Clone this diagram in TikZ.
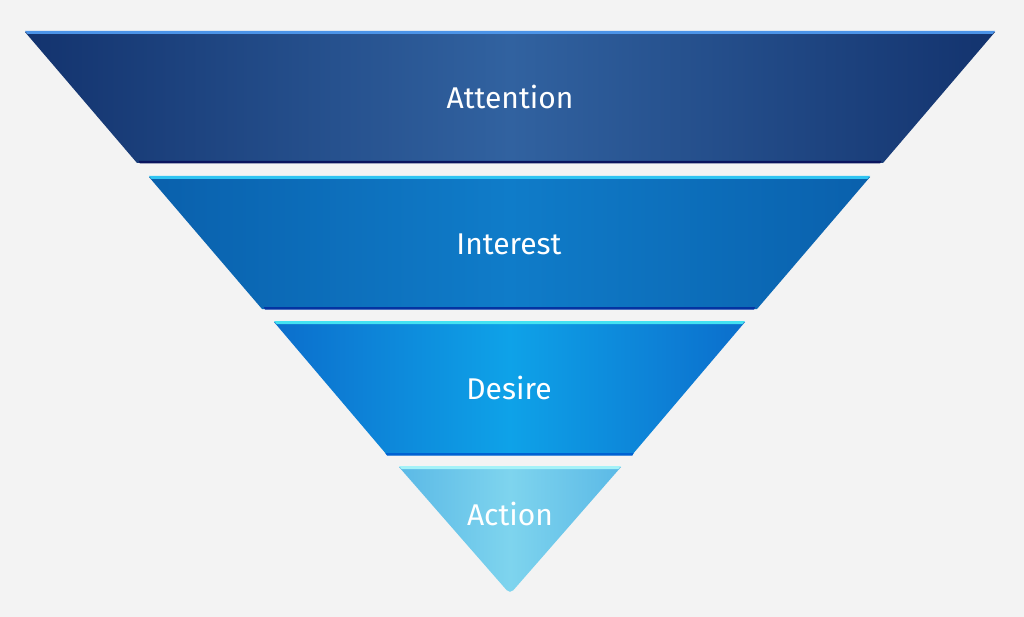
\documentclass[tikz,border=0pt]{standalone}
\usepackage{fontspec}
\setmainfont{Fira Sans}
\definecolor{bg}{HTML}{F3F3F3}
\definecolor{aEdge}{HTML}{13336E}
\definecolor{aMid}{HTML}{3162A0}
\definecolor{aTop}{HTML}{4C94E8}
\definecolor{aBot}{HTML}{0A145E}
\definecolor{iEdge}{HTML}{0A60AC}
\definecolor{iMid}{HTML}{0F7CC9}
\definecolor{iTop}{HTML}{30C4F2}
\definecolor{iBot}{HTML}{0433A2}
\definecolor{dEdge}{HTML}{0C6ECC}
\definecolor{dMid}{HTML}{0EA2E8}
\definecolor{dTop}{HTML}{44E2F2}
\definecolor{dBot}{HTML}{0062D2}
\definecolor{cEdge}{HTML}{5BB9E6}
\definecolor{cMid}{HTML}{7ED4EE}
\definecolor{cTop}{HTML}{A4F2F8}
\begin{document}
\begin{tikzpicture}[x=1pt,y=-1pt,
  label/.style={text=white,font=\fontsize{30}{36}\selectfont,inner sep=0pt,anchor=base}]
\useasboundingbox (0,0) rectangle (1024,617);
\fill[bg] (0,0) rectangle (1024,617);
% Attention
\shade[left color=aEdge,right color=aEdge,middle color=aMid] (25,32) -- (995,32) -- (883,163) -- (137,163) -- cycle;
\fill[aTop] (25,31) -- (995,31) -- (992.4,34) -- (27.6,34) -- cycle;
\fill[aBot] (138.7,161) -- (881.3,161) -- (880,163.5) -- (140,163.5) -- cycle;
% Interest
\shade[left color=iEdge,right color=iEdge,middle color=iMid] (149,177) -- (870,177) -- (757,309) -- (262,309) -- cycle;
\fill[iTop] (149,176) -- (870,176) -- (867.4,179) -- (151.6,179) -- cycle;
\fill[iBot] (263.7,307) -- (755.3,307) -- (754,309.5) -- (265,309.5) -- cycle;
% Desire
\shade[left color=dEdge,right color=dEdge,middle color=dMid] (274,322) -- (745,322) -- (632,455) -- (387,455) -- cycle;
\fill[dTop] (274,321) -- (745,321) -- (742.4,324) -- (276.6,324) -- cycle;
\fill[dBot] (385.3,453) -- (633.7,453) -- (632.4,455.5) -- (387,455.5) -- cycle;
% Action
\shade[left color=cEdge,right color=cEdge,middle color=cMid] (399,467) -- (621,467) [rounded corners=5pt] -- (510,594) [sharp corners] -- cycle;
\fill[cTop] (399,466) -- (621,466) -- (618.4,469) -- (401.6,469) -- cycle;
% labels
\node[label] (attention) at (510,108.5) {Attention};
\node[label] (interest) at (509,254.5) {Interest};
\node[label] (desire) at (509,399.5) {Desire};
\node[label] (action) at (510,525) {Action};
\end{tikzpicture}
\end{document}
